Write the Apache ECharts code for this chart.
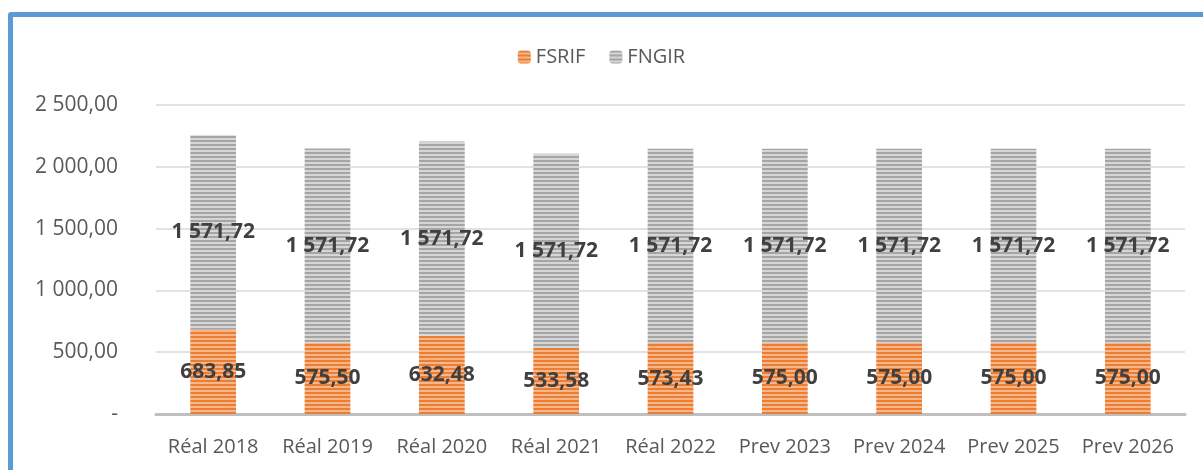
<!DOCTYPE html>
<html>
<head>
<meta charset="utf-8">
<script src="https://cdn.jsdelivr.net/npm/echarts@6/dist/echarts.min.js"></script>
<style>
  html, body { margin: 0; padding: 0; background: #fff; overflow: hidden; }
  #frame {
    position: absolute; left: 8px; top: 12px; width: 1300px; height: 600px;
    border: 5px solid #5B9BD5; border-radius: 3px; box-sizing: border-box;
  }
  #chart { position: absolute; left: 0; top: 0; width: 1203px; height: 470px; }
</style>
</head>
<body>
<div id="frame"></div>
<div id="chart"></div>
<script>
// données
const categories = ['Réal 2018', 'Réal 2019', 'Réal 2020', 'Réal 2021', 'Réal 2022', 'Prev 2023', 'Prev 2024', 'Prev 2025', 'Prev 2026'];
const fsrif = [683.85, 575.50, 632.48, 533.58, 573.43, 575.00, 575.00, 575.00, 575.00];
const fngir = [1571.72, 1571.72, 1571.72, 1571.72, 1571.72, 1571.72, 1571.72, 1571.72, 1571.72];

// format français : espace pour les milliers, virgule décimale
const frNum = (v) => {
  const parts = Number(v).toFixed(2).split('.');
  parts[0] = parts[0].replace(/\B(?=(\d{3})+(?!\d))/g, ' ');
  return parts.join(',');
};

// motif rayé horizontal
const stripes = (dark, light) => {
  const c = document.createElement('canvas');
  c.width = 4; c.height = 4;
  const ctx = c.getContext('2d');
  ctx.fillStyle = light; ctx.fillRect(0, 0, 4, 4);
  ctx.fillStyle = dark; ctx.fillRect(0, 0, 4, 2);
  return { image: c, repeat: 'repeat' };
};

const chart = echarts.init(document.getElementById('chart'));
const font = '"Open Sans", "Noto Sans", sans-serif';

const labelStyle = {
  show: true,
  position: 'inside',
  color: '#404040',
  fontWeight: 'bold',
  fontSize: 21,
  fontFamily: font,
  formatter: (p) => frNum(p.value)
};

const option = {
  animation: false,
  legend: {
    top: 42,
    left: 'center',
    itemWidth: 13,
    itemHeight: 13,
    itemGap: 24,
    textStyle: { color: '#595959', fontSize: 20, fontFamily: font }
  },
  grid: { left: 156, right: 18, top: 105, bottom: 56 },
  xAxis: {
    type: 'category',
    data: categories,
    axisTick: { show: false },
    axisLine: { lineStyle: { color: '#BFBFBF', width: 3 } },
    axisLabel: { interval: 0, color: '#595959', fontSize: 20, fontFamily: font, margin: 23 }
  },
  yAxis: {
    type: 'value',
    min: 0,
    max: 2500,
    interval: 500,
    axisLine: { show: false },
    axisTick: { show: false },
    splitLine: { lineStyle: { color: '#D9D9D9', width: 1.5 } },
    axisLabel: {
      color: '#595959', fontSize: 21, fontFamily: font, margin: 38,
      formatter: (v) => (v === 0 ? '-' : frNum(v))
    }
  },
  series: [
    {
      name: 'FSRIF',
      type: 'bar',
      stack: 'total',
      barWidth: '40%',
      data: fsrif,
      itemStyle: { color: stripes('#ED7D31', '#F6B68C') },
      label: labelStyle
    },
    {
      name: 'FNGIR',
      type: 'bar',
      stack: 'total',
      barWidth: '40%',
      data: fngir,
      itemStyle: { color: stripes('#A5A5A5', '#D6D6D6') },
      label: labelStyle
    }
  ]
};

chart.setOption(option);
</script>
</body>
</html>
